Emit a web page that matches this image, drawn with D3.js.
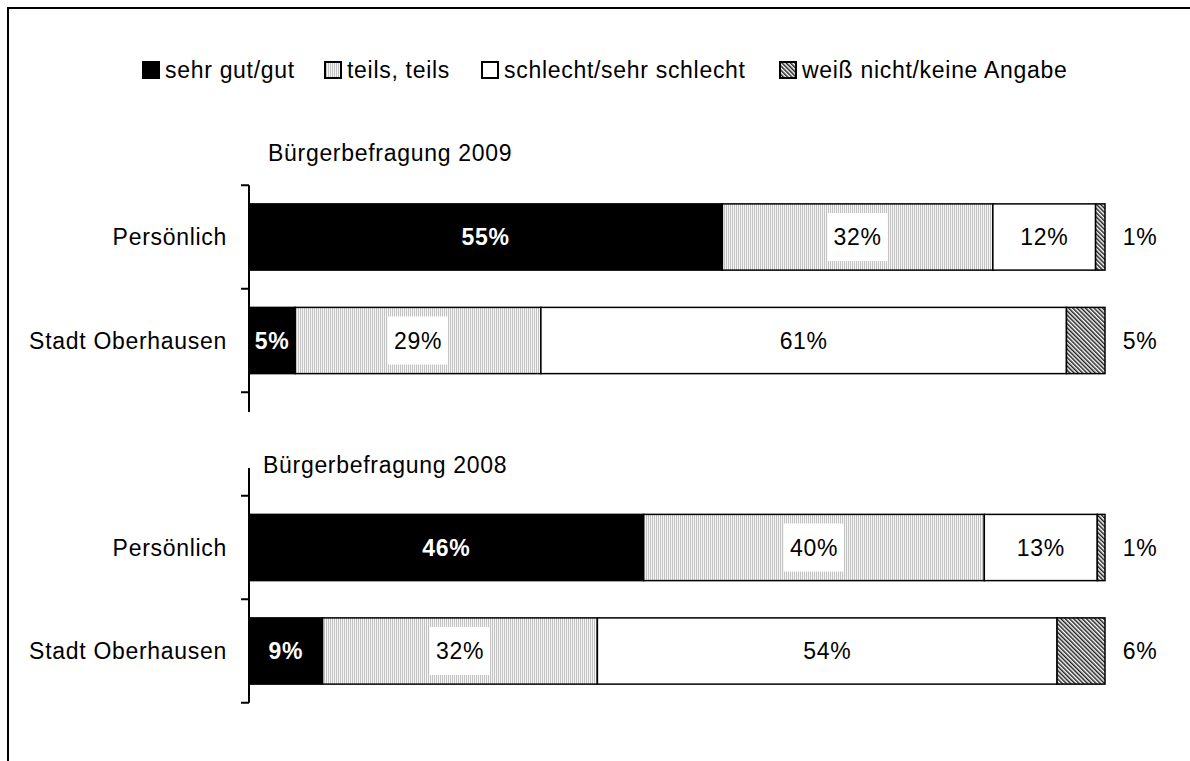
<!DOCTYPE html>
<html>
<head>
<meta charset="utf-8">
<script src="https://cdn.jsdelivr.net/npm/d3@7"></script>
<style>
  body { margin: 0; background: #fff; overflow: hidden; }
  svg { display: block; }
  text { font-family: "Liberation Sans", Arial, sans-serif; font-size: 23px; letter-spacing: 0.7px; fill: #000; }
</style>
</head>
<body>
<div id="graph"></div>
<script>
// rows of the chart, a blank row separates the two surveys
var rows = ['p2009', 's2009', 'gap', 'p2008', 's2008']
var rowLabels = ['Persönlich', 'Stadt Oberhausen', '', 'Persönlich', 'Stadt Oberhausen']
var titles = ['Bürgerbefragung 2009', 'Bürgerbefragung 2008']

var series = ['sehr gut/gut', 'teils, teils', 'schlecht/sehr schlecht', 'weiß nicht/keine Angabe']

// shares in percent, per row (blank row left out)
var gut        = [55.3,  5.4, 46.1,  8.6]
var teils      = [31.6, 28.7, 39.8, 32.1]
var schlecht   = [12.0, 61.4, 13.2, 53.7]
var weissNicht = [ 1.1,  4.5,  0.9,  5.6]

// printed labels
var gutLabels        = [55,  5, 46,  9]
var teilsLabels      = [32, 29, 40, 32]
var schlechtLabels   = [12, 61, 13, 54]
var weissNichtLabels = [ 1,  5,  1,  6]

var barRows = ['p2009', 's2009', 'p2008', 's2008']
var values = [gut, teils, schlecht, weissNicht]
var labels = [gutLabels, teilsLabels, schlechtLabels, weissNichtLabels]

var width = 1190, height = 761

var svg = d3.select('#graph').append('svg').attr('width', width).attr('height', height)

var defs = svg.append('defs')
var pGray = defs.append('pattern').attr('id', 'pgray').attr('patternUnits', 'userSpaceOnUse')
  .attr('width', 2).attr('height', 2)
pGray.append('rect').attr('width', 2).attr('height', 2).attr('fill', '#f6f6f6')
pGray.append('rect').attr('width', 1).attr('height', 2).attr('fill', '#c2c2c2')

var pHatch = defs.append('pattern').attr('id', 'phatch').attr('patternUnits', 'userSpaceOnUse')
  .attr('width', 3).attr('height', 3).attr('patternTransform', 'rotate(-45)')
pHatch.append('rect').attr('width', 3).attr('height', 3).attr('fill', '#fff')
pHatch.append('rect').attr('width', 1.5).attr('height', 3).attr('fill', '#222')

var fills = ['#000', 'url(#pgray)', '#fff', 'url(#phatch)']

// outer frame, runs past the right and bottom edge
svg.append('rect').attr('x', 8).attr('y', 8).attr('width', 1300).attr('height', 900)
  .attr('fill', 'none').attr('stroke', '#000').attr('stroke-width', 2)

var x = d3.scaleLinear().domain([0, 100]).range([249, 1105])
var y = d3.scaleBand().domain(rows).range([185.25, 702.75]).paddingInner(0.36).paddingOuter(0.18)

// stacked segments
var segs = []
barRows.forEach(function(r, i){
  var acc = 0
  values.forEach(function(v, s){
    segs.push({row: r, s: s, x0: acc, x1: acc + v[i], label: labels[s][i]})
    acc += v[i]
  })
})

svg.append('g').selectAll('rect').data(segs).join('rect')
  .attr('x', d => x(d.x0))
  .attr('y', d => y(d.row))
  .attr('width', d => x(d.x1) - x(d.x0))
  .attr('height', y.bandwidth())
  .attr('fill', d => fills[d.s])
  .attr('stroke', '#000').attr('stroke-width', 1.5)

// axis line with ticks at the band edges
var axisX = x(0)
var edges = d3.range(rows.length + 1).map(i => y.range()[0] + i * y.step())
svg.append('line').attr('x1', axisX).attr('x2', axisX)
  .attr('y1', edges[0]).attr('y2', edges[edges.length - 1])
  .attr('stroke', '#000').attr('stroke-width', 2)
svg.append('g').selectAll('line').data(edges).join('line')
  .attr('x1', axisX - 8).attr('x2', axisX)
  .attr('y1', d => d).attr('y2', d => d)
  .attr('stroke', '#000').attr('stroke-width', 2)

// row labels
svg.append('g').selectAll('text').data(rows.filter(r => r != 'gap')).join('text')
  .attr('x', 227).attr('y', d => y(d) + y.bandwidth() / 2)
  .attr('dy', '0.35em').attr('text-anchor', 'end')
  .text(d => rowLabels[rows.indexOf(d)])

// data labels inside the bars
var inside = segs.filter(d => d.s < 3)
var lab = svg.append('g').selectAll('g').data(inside).join('g')
  .attr('transform', d => 'translate(' + x((d.x0 + d.x1) / 2) + ',' + (y(d.row) + y.bandwidth() / 2) + ')')
lab.filter(d => d.s > 0).append('rect')
  .attr('x', -30).attr('y', -24).attr('width', 60).attr('height', 48).attr('fill', '#fff')
lab.append('text')
  .attr('text-anchor', 'middle').attr('dy', '0.36em')
  .style('fill', d => d.s == 0 ? '#fff' : '#000')
  .style('font-weight', d => d.s == 0 ? 'bold' : 'normal')
  .text(d => d.label + '%')

// "weiß nicht" labels right of the bars
svg.append('g').selectAll('text').data(segs.filter(d => d.s == 3)).join('text')
  .attr('x', x(100) + 35).attr('y', d => y(d.row) + y.bandwidth() / 2)
  .attr('dy', '0.36em').attr('text-anchor', 'middle')
  .text(d => d.label + '%')

// survey titles, the 2008 one sits in a white box over the axis
svg.append('text').attr('x', 268).attr('y', 161).text(titles[0])
svg.append('rect').attr('x', 244).attr('y', 412).attr('width', 280).attr('height', 56).attr('fill', '#fff')
svg.append('text').attr('x', 263).attr('y', 473).text(titles[1])

// legend
var legendX = [142, 324, 481, 779]
var leg = svg.append('g').selectAll('g').data(series).join('g')
  .attr('transform', (d, i) => 'translate(' + legendX[i] + ',61)')
leg.append('rect').attr('x', 1).attr('y', 1).attr('width', 16).attr('height', 16)
  .attr('fill', (d, i) => fills[i]).attr('stroke', '#000').attr('stroke-width', 2)
leg.append('text').attr('x', 23).attr('y', 9).attr('dy', '0.36em').text(d => d)
</script>
</body>
</html>
